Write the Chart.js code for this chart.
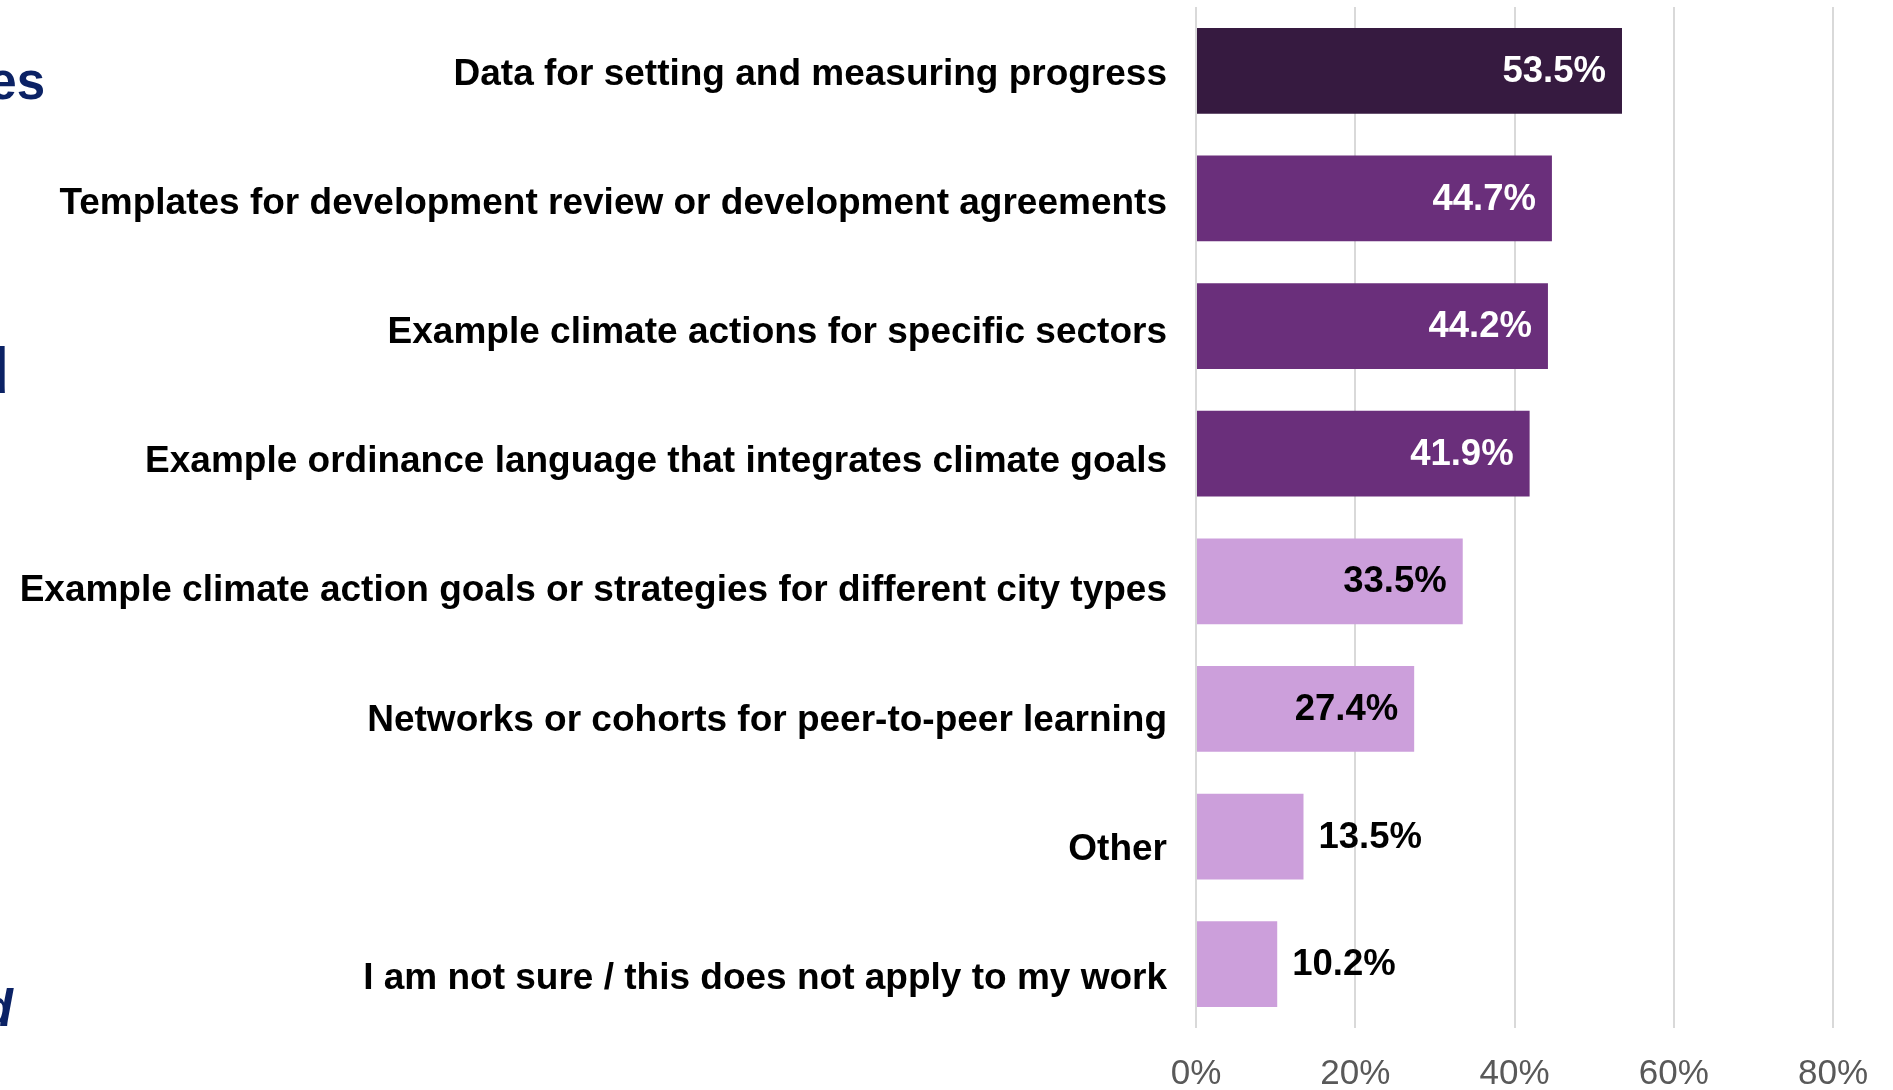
<!DOCTYPE html>
<html>
<head>
<meta charset="utf-8">
<script src="https://cdn.jsdelivr.net/npm/chart.js@4.4.1/dist/chart.umd.min.js"></script>
<style>
  html, body { margin: 0; padding: 0; background: #ffffff; }
  #wrap { position: relative; width: 1893px; height: 1090px; }
  canvas { display: block; }
</style>
</head>
<body>
<div id="wrap"><canvas id="c" width="1893" height="1090"></canvas></div>
<script>
// ---- data ----
const categories = [
  "Data for setting and measuring progress",
  "Templates for development review or development agreements",
  "Example climate actions for specific sectors",
  "Example ordinance language that integrates climate goals",
  "Example climate action goals or strategies for different city types",
  "Networks or cohorts for peer-to-peer learning",
  "Other",
  "I am not sure / this does not apply to my work"
];
const values = [53.5, 44.7, 44.2, 41.9, 33.5, 27.4, 13.5, 10.2];
const tickValues = [0, 20, 40, 60, 80];
// Cut-off heading fragments visible at the left edge of the slide
const sideFragments = ["Resources", "would", "and"];

// ---- styles ----
const DARK = "#361a40", MID = "#6a2f7b", LIGHT = "#cc9fdb";
const barColors = [DARK, MID, MID, MID, LIGHT, LIGHT, LIGHT, LIGHT];
const labelColors = ["#ffffff", "#ffffff", "#ffffff", "#ffffff", "#000000", "#000000", "#000000", "#000000"];
const FONT = "'Liberation Sans', Arial, Helvetica, sans-serif";

const valueLabels = {
  id: "valueLabels",
  afterDatasetsDraw(chart) {
    const ctx = chart.ctx;
    const meta = chart.getDatasetMeta(0);
    ctx.save();
    ctx.font = "bold 36.5px " + FONT;
    ctx.textBaseline = "middle";
    meta.data.forEach((bar, i) => {
      const txt = values[i].toFixed(1) + "%";
      const inside = values[i] > 20;
      ctx.fillStyle = labelColors[i];
      if (inside) {
        ctx.textAlign = "right";
        ctx.fillText(txt, bar.x - 16, bar.y + 1);
      } else {
        ctx.textAlign = "left";
        ctx.fillText(txt, bar.x + 15, bar.y + 1);
      }
    });
    ctx.restore();
  }
};

// category labels, drawn at the y scale's tick positions (slightly lower spacing as in the slide)
const categoryLabels = {
  id: "categoryLabels",
  afterDraw(chart) {
    const ctx = chart.ctx;
    const ys = chart.scales.y;
    ctx.save();
    ctx.font = "bold 37px " + FONT;
    ctx.fillStyle = "#000000";
    ctx.textAlign = "right";
    ctx.textBaseline = "middle";
    categories.forEach((c, i) => {
      ctx.fillText(c, chart.chartArea.left - 29, ys.getPixelForTick(i) + 3.6 + 1.56 * i);
    });
    ctx.restore();
  }
};

const sideText = {
  id: "sideText",
  afterDraw(chart) {
    const ctx = chart.ctx;
    ctx.save();
    ctx.fillStyle = "#0b2265";
    ctx.textAlign = "right";
    ctx.textBaseline = "alphabetic";
    ctx.font = "bold 51px " + FONT;
    ctx.fillText(sideFragments[0], 45, 99);
    ctx.font = "bold 64px " + FONT;
    ctx.fillText(sideFragments[1], 9, 393);
    ctx.font = "italic bold 51px " + FONT;
    ctx.fillText(sideFragments[2], 13, 1026);
    ctx.restore();
  }
};

new Chart(document.getElementById("c"), {
  type: "bar",
  data: {
    labels: categories,
    datasets: [{
      data: values,
      backgroundColor: barColors,
      borderWidth: 0,
      barPercentage: 0.671,
      categoryPercentage: 1.0
    }]
  },
  options: {
    indexAxis: "y",
    responsive: false,
    animation: false,
    devicePixelRatio: 1,
    layout: { padding: { top: 7, right: 60, left: 0, bottom: 0 } },
    plugins: { legend: { display: false }, tooltip: { enabled: false } },
    scales: {
      x: {
        min: 0,
        max: 80,
        afterBuildTicks(scale) { scale.ticks = tickValues.map(v => ({ value: v })); },
        afterFit(scale) { scale.height = 62; scale.paddingLeft = 0; scale.paddingRight = 0; },
        grid: { color: "#d9d9d9", lineWidth: 2, drawTicks: false },
        border: { display: false },
        ticks: {
          color: "#595959",
          font: { family: FONT, size: 35 },
          padding: 25,
          maxRotation: 0,
          callback: v => v + "%"
        }
      },
      y: {
        afterFit(scale) { scale.width = 1196; scale.paddingTop = 0; scale.paddingBottom = 0; },
        grid: { display: false, drawTicks: false },
        border: { display: false },
        ticks: { display: false, autoSkip: false }
      }
    }
  },
  plugins: [valueLabels, categoryLabels, sideText]
});
</script>
</body>
</html>
